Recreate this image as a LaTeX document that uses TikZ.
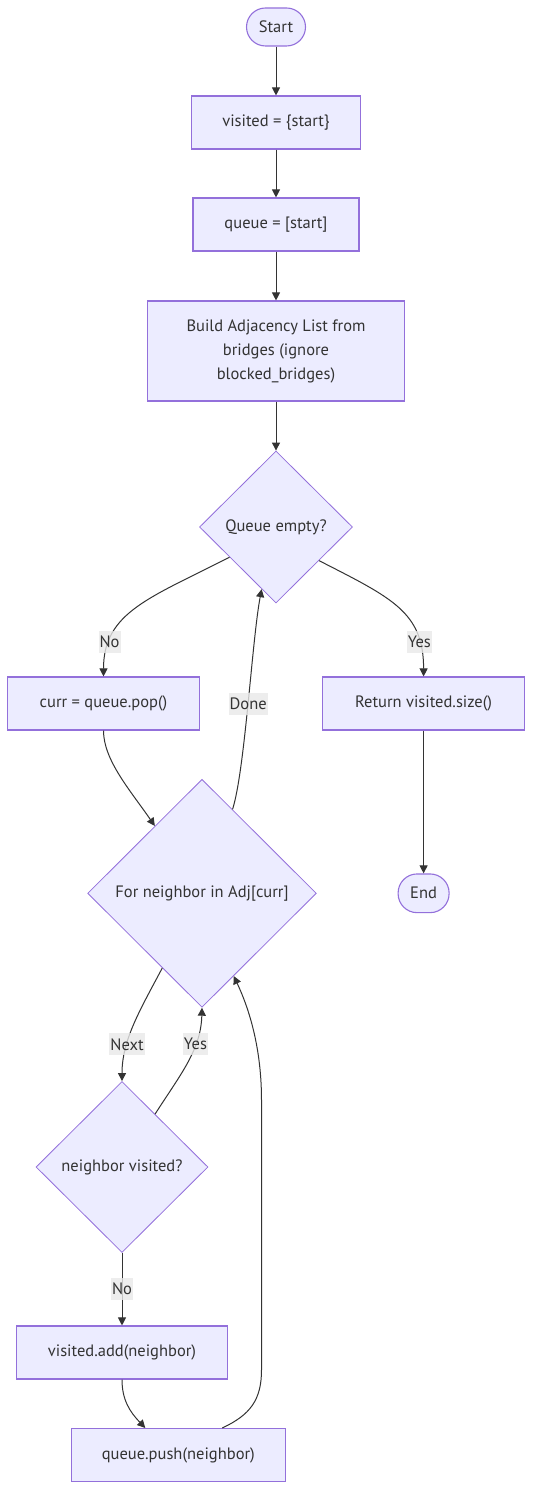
\documentclass[tikz,border=0pt]{standalone}
\usepackage{fontspec}
\setmainfont{PT Sans}
\usetikzlibrary{shapes.geometric,arrows.meta}
\definecolor{nodefill}{HTML}{ECECFF}
\definecolor{nodeline}{HTML}{9370DB}
\definecolor{ink}{HTML}{333333}
\definecolor{lblfill}{HTML}{E8E8E8}

\begin{document}
\begin{tikzpicture}[x=1pt,y=1pt,
	font=\fontsize{16.5}{24}\selectfont,text=ink,
	box/.style={draw=nodeline,fill=nodefill,line width=1.1pt,minimum height=53pt,inner sep=0pt,align=center},
	term/.style={box,rounded corners=19pt,minimum height=38pt},
	decide/.style={diamond,aspect=1,draw=nodeline,fill=nodefill,line width=0.8pt,inner sep=0pt},
	flow/.style={draw=ink,line width=1pt,-{Triangle[length=8pt,width=8pt]}},
	lbl/.style={fill=lblfill,fill opacity=0.8,text opacity=1,inner xsep=1pt,inner ysep=0pt,minimum height=22pt}]
	\useasboundingbox (0,0) rectangle (540,-1511);
	\node[term,minimum width=59pt] (start) at (276,-27) {Start};
	\node[box,minimum width=169pt] (visited) at (276,-122.5) {visited = \{start\}};
	\node[box,minimum width=166pt] (queue) at (276,-224.5) {queue = [start]};
	\node[box,minimum width=257pt,minimum height=100pt] (adj) at (276,-351) {Build Adjacency List from\\bridges (ignore\\blocked\_bridges)};
	\node[decide,minimum width=153pt,minimum height=152pt] (empty) at (276,-527) {Queue empty?};
	\node[box,minimum width=192pt] (pop) at (103.5,-703.5) {curr = queue.pop()};
	\node[box,minimum width=202pt] (ret) at (423.6,-703.5) {Return visited.size()};
	\node[decide,minimum width=228.7pt,minimum height=228pt] (for) at (202,-893.3) {For neighbor in Adj[curr]};
	\node[term,minimum width=51pt,minimum height=38.7pt] (end) at (423.6,-893.3) {End};
	\node[decide,minimum width=172pt,minimum height=171pt] (seen) at (122,-1167) {neighbor visited?};
	\node[box,minimum width=211pt] (add) at (122,-1352.5) {visited.add(neighbor)};
	\node[box,minimum width=214.5pt] (push) at (178.3,-1455) {queue.push(neighbor)};

	\draw[flow] (start) -- (visited);
	\draw[flow] (visited) -- (queue);
	\draw[flow] (queue) -- (adj);
	\draw[flow] (adj) -- (empty);
	\draw[flow] (empty.213) .. controls (150,-598) and (103.5,-612) .. (pop.north) node[lbl,pos=0.79] {No};
	\draw[flow] (empty.322) .. controls (392,-598) and (423.6,-612) .. (ret.north) node[lbl,pos=0.79] {Yes};
	\draw[flow] (pop.south) .. controls (103.5,-760) and (130,-790) .. (for.125.6);
	\draw[flow] (for.70) .. controls (245,-770) and (252,-640) .. (empty.257) node[lbl,pos=0.5] {Done};
	\draw[flow] (ret) -- (end);
	\draw[flow] (for.242) .. controls (140,-1010) and (122,-1040) .. (seen.north) node[lbl,pos=0.68] {Next};
	\draw[flow] (seen.58) .. controls (180,-1075) and (201,-1050) .. (for.south) node[lbl,pos=0.68] {Yes};
	\draw[flow] (seen) -- node[lbl] {No} (add);
	\draw[flow] (add.south) .. controls (122,-1400) and (130,-1412) .. ([xshift=-33pt]push.north);
	\draw[flow] ([xshift=44pt]push.north) .. controls (250,-1415) and (261.5,-1400) .. (261.5,-1370) -- (261.5,-1100) .. controls (261.5,-1040) and (245,-1000) .. (for.291);
\end{tikzpicture}
\end{document}
